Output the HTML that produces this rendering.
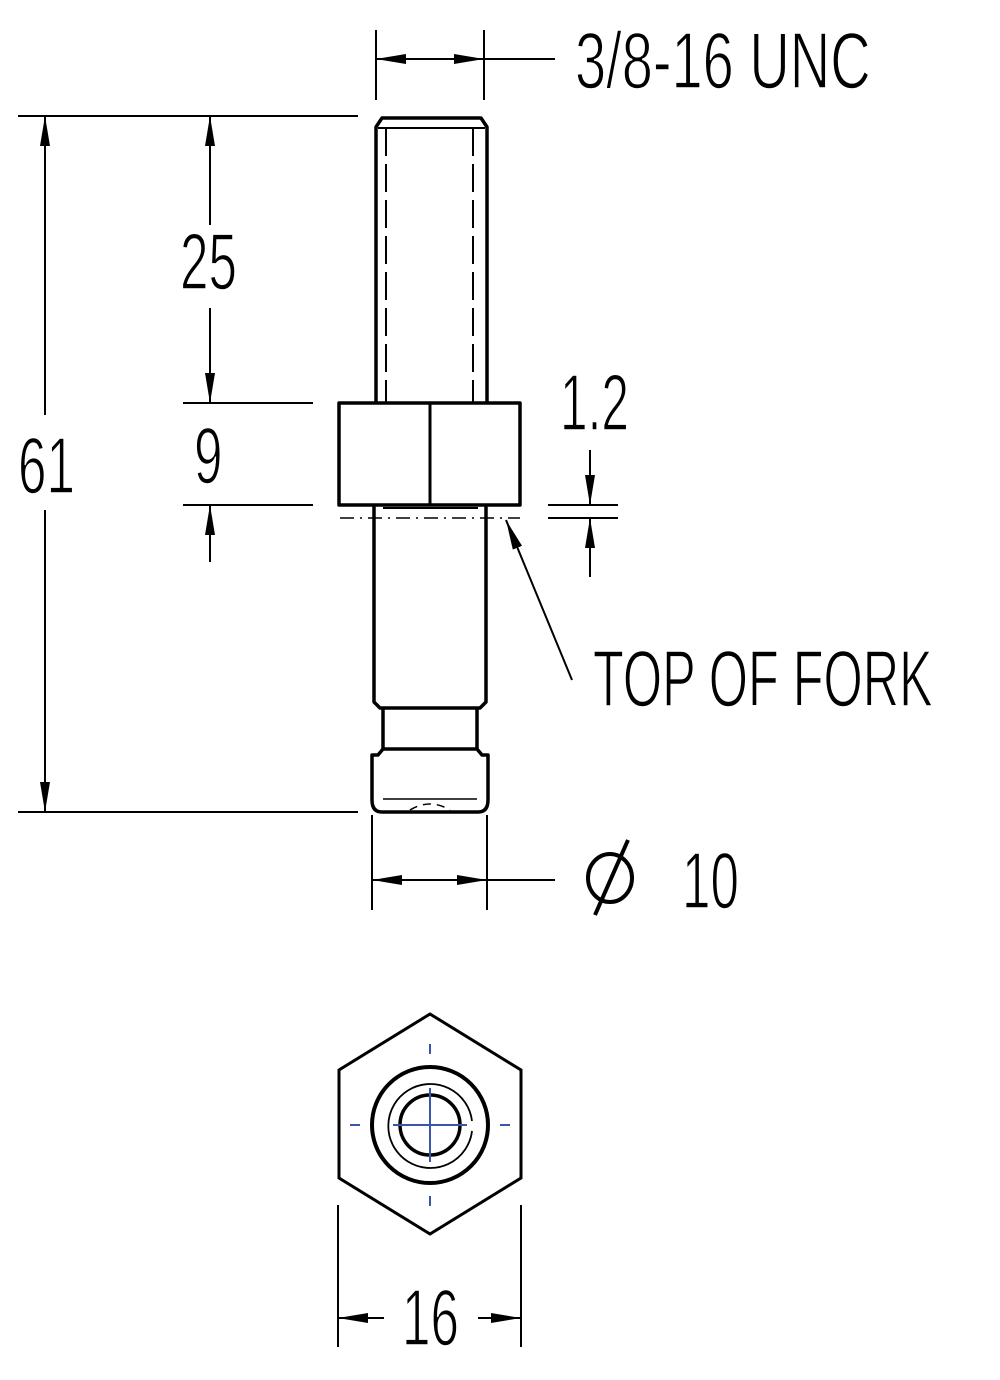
<!DOCTYPE html>
<html><head><meta charset="utf-8"><style>
html,body{margin:0;padding:0;background:#fff;}
svg{display:block;}
text{font-family:"Liberation Sans Narrow","Liberation Sans",sans-serif;fill:#000;stroke:#fff;stroke-width:1.6;}
</style></head><body>
<svg width="1000" height="1380" viewBox="0 0 1000 1380" xmlns="http://www.w3.org/2000/svg">
<defs>
<marker id="ar" viewBox="0 0 30 10" refX="30" refY="5" markerWidth="30" markerHeight="10" markerUnits="userSpaceOnUse" orient="auto">
<path d="M0,0 L30,5 L0,10 Z" fill="#000"/>
</marker>
</defs>
<g stroke="#000" stroke-width="2" fill="none">
<line x1="376" y1="30" x2="376" y2="100"/>
<line x1="484" y1="30" x2="484" y2="100"/>
<line x1="430" y1="59" x2="376" y2="59" marker-end="url(#ar)"/>
<line x1="430" y1="59" x2="484" y2="59" marker-end="url(#ar)"/>
<line x1="484" y1="59" x2="555" y2="59"/>
<line x1="18" y1="116" x2="358" y2="116"/>
<line x1="18" y1="812" x2="358" y2="812"/>
<line x1="45" y1="415" x2="45" y2="116" marker-end="url(#ar)"/>
<line x1="45" y1="510" x2="45" y2="812" marker-end="url(#ar)"/>
<line x1="210" y1="225" x2="210" y2="116" marker-end="url(#ar)"/>
<line x1="210" y1="308" x2="210" y2="403" marker-end="url(#ar)"/>
<line x1="183" y1="403" x2="313" y2="403"/>
<line x1="183" y1="505" x2="313" y2="505"/>
<line x1="210" y1="562" x2="210" y2="505" marker-end="url(#ar)"/>
<line x1="548" y1="505" x2="618" y2="505"/>
<line x1="548" y1="518" x2="618" y2="518"/>
<line x1="590" y1="450" x2="590" y2="505" marker-end="url(#ar)"/>
<line x1="590" y1="577" x2="590" y2="518" marker-end="url(#ar)"/>
<line x1="572" y1="680" x2="506" y2="520" marker-end="url(#ar)"/>
<line x1="372" y1="815" x2="372" y2="910"/>
<line x1="487" y1="815" x2="487" y2="910"/>
<line x1="430" y1="880" x2="372" y2="880" marker-end="url(#ar)"/>
<line x1="430" y1="880" x2="487" y2="880" marker-end="url(#ar)"/>
<line x1="487" y1="880" x2="555" y2="880"/>
<line x1="338" y1="1205" x2="338" y2="1347"/>
<line x1="521" y1="1205" x2="521" y2="1347"/>
<line x1="384" y1="1318" x2="338" y2="1318" marker-end="url(#ar)"/>
<line x1="478" y1="1318" x2="521" y2="1318" marker-end="url(#ar)"/>
</g>
<g stroke="#000" stroke-width="3.5" fill="none" stroke-linejoin="round">
<path d="M376,402 L376,127 L382,118 L481,118 L487,127 L487,402"/>
<line x1="378" y1="128" x2="485" y2="128" stroke-width="2"/>
<rect x="339" y="403" width="181" height="102"/>
<line x1="430" y1="403" x2="430" y2="505" stroke-width="3"/>
<path d="M374,505 L374,702 L380,708 L480,708 L486,702 L486,505"/>
<line x1="383" y1="508" x2="478" y2="508" stroke-width="2"/>
<path d="M383,709 L383,749 M477,709 L477,749"/>
<path d="M378,755 L383,749 L477,749 L482,755 L488,755 L488,800 Q488,812 478,812 L382,812 Q372,812 372,800 L372,755 Z"/>
<line x1="383" y1="799" x2="477" y2="799" stroke-width="1.5"/>
<path d="M410,810 Q430,798 450,810" stroke-width="1.5" stroke-dasharray="8,6"/>
</g>
<g stroke="#000" stroke-width="2" fill="none" stroke-dasharray="28,8">
<line x1="386" y1="128" x2="386" y2="402"/>
<line x1="473" y1="128" x2="473" y2="402"/>
</g>
<line x1="340" y1="518" x2="520" y2="518" stroke="#000" stroke-width="1.5" stroke-dasharray="14,6,2,6"/>
<g stroke="#000" fill="none">
<polygon points="430,1014 521,1070 521,1178 430,1234 339,1178 339,1070" stroke-width="3"/>
<circle cx="430" cy="1125" r="58" stroke-width="4"/>
<path d="M472,1121 A42,42 0 1 0 472,1131" stroke-width="1.8"/>
<circle cx="430" cy="1125" r="30" stroke-width="3.5"/>
</g>
<g stroke="#3a55a8" stroke-width="2">
<line x1="430" y1="1088" x2="430" y2="1162"/>
<line x1="393" y1="1125" x2="467" y2="1125"/>
<line x1="430" y1="1044" x2="430" y2="1054"/>
<line x1="430" y1="1196" x2="430" y2="1206"/>
<line x1="350" y1="1125" x2="360" y2="1125"/>
<line x1="500" y1="1125" x2="510" y2="1125"/>
</g>
<g font-size="80">
<text transform="translate(575,88) scale(0.70,1)">3/8-16 UNC</text>
<text transform="translate(180,289) scale(0.64,1)">25</text>
<text transform="translate(194,483) scale(0.64,1)">9</text>
<text transform="translate(18,493) scale(0.64,1)">61</text>
<text transform="translate(560,430) scale(0.62,1)">1.2</text>
<text transform="translate(593,706) scale(0.63,1)">TOP OF FORK</text>
<text transform="translate(682,908) scale(0.64,1)">10</text>
<text transform="translate(402,1345) scale(0.64,1)">16</text>
</g>
<g stroke="#000" stroke-width="4" fill="none">
<ellipse cx="610" cy="878" rx="22" ry="24"/>
<line x1="595" y1="915" x2="628" y2="840"/>
</g>
</svg>
</body></html>
